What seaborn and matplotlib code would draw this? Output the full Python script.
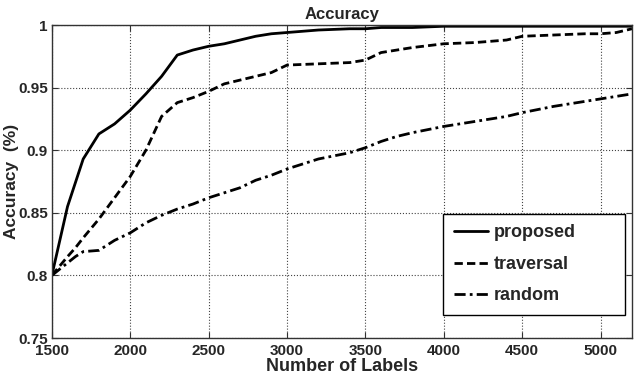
import pandas as pd
import seaborn as sns
import matplotlib.pyplot as plt

# number of labels (x) and accuracy of each method
labels = [1500, 1600, 1650, 1700, 1800, 1900, 2000, 2100, 2200, 2300, 2400, 2500,
          2600, 2700, 2800, 2900, 3000, 3200, 3400, 3500, 3600, 3700, 3800, 4000,
          4200, 4400, 4500, 4700, 4900, 5000, 5100, 5200]

proposed = [0.800, 0.855, 0.874, 0.893, 0.913, 0.921, 0.932, 0.945, 0.959, 0.976, 0.980, 0.983,
            0.985, 0.988, 0.991, 0.993, 0.994, 0.996, 0.997, 0.997, 0.998, 0.998, 0.998, 0.999,
            0.999, 0.999, 0.999, 0.999, 0.999, 0.999, 0.999, 0.999]

traversal = [0.800, 0.815, 0.822, 0.830, 0.845, 0.862, 0.879, 0.900, 0.927, 0.938, 0.942, 0.947,
             0.953, 0.956, 0.959, 0.962, 0.968, 0.969, 0.970, 0.972, 0.978, 0.980, 0.982, 0.985,
             0.986, 0.988, 0.991, 0.992, 0.993, 0.993, 0.994, 0.997]

random_sel = [0.800, 0.810, 0.815, 0.819, 0.820, 0.828, 0.834, 0.842, 0.848, 0.853, 0.857, 0.862,
              0.866, 0.870, 0.876, 0.880, 0.885, 0.893, 0.898, 0.902, 0.907, 0.911, 0.914, 0.919,
              0.923, 0.927, 0.930, 0.935, 0.939, 0.941, 0.943, 0.945]

methods = ["proposed", "traversal", "random"]

data = pd.DataFrame({
    "labels": labels * 3,
    "acc": proposed + traversal + random_sel,
    "method": [m for m in methods for _ in labels],
})

sns.set_style("ticks")
plt.rcParams["font.family"] = ["Liberation Sans", "DejaVu Sans"]

fig = plt.figure(figsize=(6.4, 3.76), dpi=100)
ax = fig.add_axes([0.081, 0.101, 0.9065, 0.8325])

sns.lineplot(
    data=data,
    x="labels",
    y="acc",
    style="method",
    style_order=methods,
    dashes={"proposed": "", "traversal": (3, 1.5), "random": (4, 1.5, 1, 1.5)},
    color="black",
    linewidth=2,
    ax=ax,
)

ax.set_xlim(1500, 5200)
ax.set_ylim(0.75, 1.0)
ax.set_xticks([1500, 2000, 2500, 3000, 3500, 4000, 4500, 5000])
ax.set_yticks([0.75, 0.8, 0.85, 0.9, 0.95, 1.0])
ax.set_yticklabels(["0.75", "0.8", "0.85", "0.9", "0.95", "1"])
ax.grid(True, linestyle=":", color="#444444", linewidth=0.8)
ax.tick_params(direction="in", top=True, right=True, labelsize=11, length=4,
               color="#333333", pad=3)
ax.tick_params(axis="x", pad=4.5)
for t in ax.get_xticklabels() + ax.get_yticklabels():
    t.set_fontweight("bold")
for s in ax.spines.values():
    s.set_color("#333333")
    s.set_linewidth(1)

ax.set_title("Accuracy", fontsize=12, fontweight="bold", pad=4)
ax.set_xlabel("Number of Labels", fontsize=13, fontweight="bold", labelpad=0)
ax.set_ylabel("Accuracy  (%)", fontsize=12.5, fontweight="bold")
ax.yaxis.set_label_coords(-0.057, 0.5)

leg = ax.legend(loc="lower left", bbox_to_anchor=(0.674, 0.073, 0.314, 0.326),
                mode="expand", borderaxespad=0, handlelength=1.9,
                handletextpad=0.3, labelspacing=0.8, borderpad=0.6,
                fancybox=False, framealpha=1, edgecolor="black",
                prop={"weight": "bold", "size": 13})
leg.get_frame().set_linewidth(1)

fig.savefig("out.png", dpi=100)
